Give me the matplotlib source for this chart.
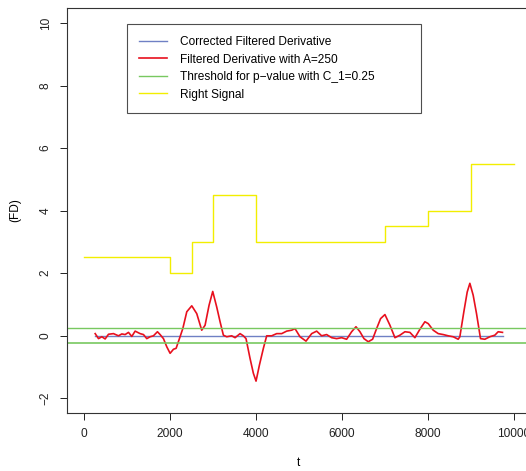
import matplotlib
matplotlib.use("Agg")
import matplotlib.pyplot as plt
import numpy as np

plt.rcParams['font.family'] = ['Liberation Sans', 'DejaVu Sans']

# right signal (step function)
signal_t = [0, 2000, 2500, 3000, 4000, 7000, 8000, 9000, 10000]
signal_v = [2.5, 2.0, 3.0, 4.5, 3.0, 3.5, 4.0, 5.5, 5.5]

# filtered derivative with A=250
fd_t = [256, 333, 411, 488, 566, 682, 798, 876, 953, 1031, 1108, 1186, 1302, 1380,
        1457, 1535, 1612, 1705, 1767, 1845, 1922, 2000, 2078, 2140, 2217, 2295, 2388,
        2504, 2620, 2736, 2814, 2907, 2992, 3085, 3163, 3240, 3318, 3434, 3512, 3628,
        3705, 3767, 3860, 3938, 4000, 4078, 4171, 4248, 4364, 4481, 4597, 4713, 4829,
        4907, 5023, 5163, 5295, 5411, 5527, 5643, 5760, 5876, 5992, 6109, 6225, 6326,
        6419, 6512, 6612, 6713, 6806, 6899, 7000, 7116, 7233, 7349, 7465, 7581, 7698,
        7814, 7930, 8008, 8124, 8240, 8357, 8473, 8589, 8705, 8744, 8837, 8915, 8977,
        9054, 9132, 9225, 9326, 9442, 9558, 9636, 9736]
fd_v = [0.06, -0.10, -0.04, -0.11, 0.04, 0.06, -0.01, 0.05, 0.03, 0.10, -0.03, 0.14,
        0.06, 0.03, -0.10, -0.04, -0.01, 0.12, 0.03, -0.10, -0.36, -0.57, -0.44, -0.41,
        -0.10, 0.22, 0.76, 0.95, 0.70, 0.17, 0.33, 0.97, 1.41, 0.91, 0.44, 0.01, -0.04,
        -0.01, -0.07, 0.06, -0.01, -0.10, -0.73, -1.21, -1.46, -0.95, -0.41, -0.01,
        -0.01, 0.06, 0.06, 0.14, 0.17, 0.22, -0.04, -0.18, 0.06, 0.14, -0.01, 0.03,
        -0.07, -0.10, -0.07, -0.12, 0.12, 0.28, 0.12, -0.10, -0.20, -0.12, 0.22, 0.54,
        0.67, 0.33, -0.07, 0.01, 0.12, 0.10, -0.07, 0.20, 0.44, 0.38, 0.17, 0.06, 0.03,
        -0.01, -0.04, -0.12, -0.04, 0.76, 1.39, 1.67, 1.29, 0.70, -0.10, -0.12, -0.04,
        0.01, 0.12, 0.10]

# corrected filtered derivative
cfd_t = [250, 9750]
cfd_v = [0.0, 0.0]

threshold = 0.25

fig = plt.figure(figsize=(5.26, 4.71), dpi=100)
ax = fig.add_axes([67/526, 58/471, 464/526, 405/471])

ax.plot(cfd_t, cfd_v, color='#6f80c4', lw=1.0, label='Corrected Filtered Derivative')
ax.plot(fd_t, fd_v, color='#e8101e', lw=1.2, label='Filtered Derivative with A=250')
ax.axhline(threshold, color='#78c860', lw=1.0, label='Threshold for p\u2212value with C_1=0.25')
ax.axhline(-threshold, color='#78c860', lw=1.2)
ax.step(signal_t, signal_v, where='post', color='#f2ee00', lw=1.0, label='Right Signal')

ax.set_xlim(-400, 10400)
ax.set_ylim(-2.48, 10.48)
ax.set_xticks([0, 2000, 4000, 6000, 8000, 10000])
ax.set_yticks([-2, 0, 2, 4, 6, 8, 10])
ax.tick_params(direction='out', length=5, width=0.7, labelsize=8.6, pad=6, colors='#222222')
for lab in ax.get_yticklabels():
    lab.set_rotation(90)
    lab.set_va('center')
for s in ax.spines.values():
    s.set_linewidth(0.8)
    s.set_color('#333333')

ax.set_xlabel('t', fontsize=8.6, labelpad=12)
ax.set_ylabel('(FD)', fontsize=8.6, labelpad=13)

leg = ax.legend(loc='upper left', bbox_to_anchor=(0.129, 0.741, 0.634, 0.219), mode='expand',
                fontsize=8.6, frameon=True, fancybox=False, edgecolor='#222222',
                handlelength=2.33, handletextpad=1.08, borderpad=1.0, labelspacing=0.46,
                borderaxespad=0)
leg.get_frame().set_linewidth(0.8)

fig.savefig('out.png', dpi=100)
